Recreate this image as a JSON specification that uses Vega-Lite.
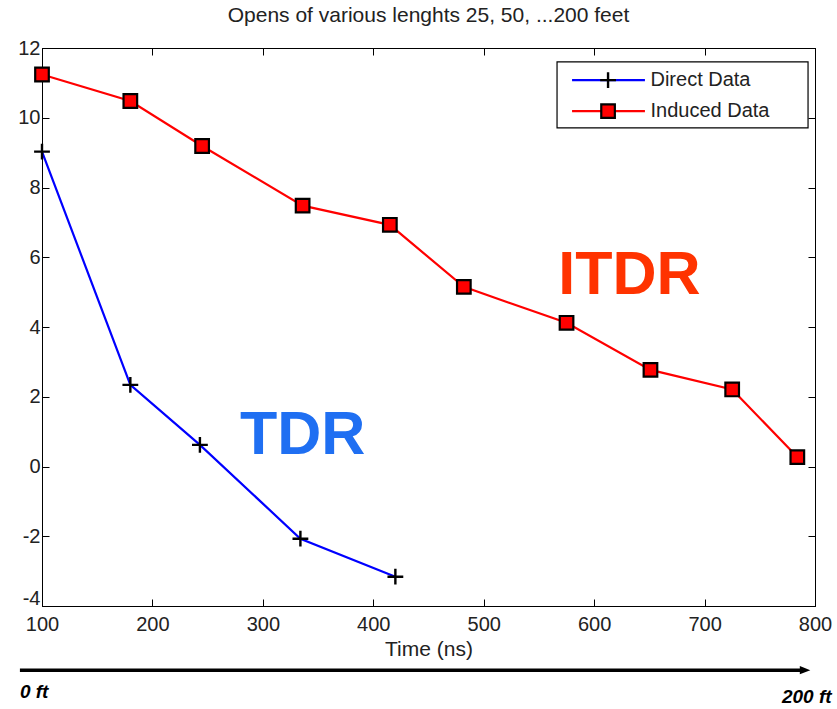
{
  "$schema": "https://vega.github.io/schema/vega-lite/v6.json",
  "autosize": "none",
  "width": 773,
  "height": 558,
  "padding": {"left": 42, "top": 48, "right": 22, "bottom": 103},
  "background": "white",
  "title": {"text": "Opens of various lenghts 25, 50, ...200 feet", "fontSize": 21, "fontWeight": "normal", "font": "Liberation Sans", "color": "#222", "offset": 12},
  "config": {
    "view": {"stroke": "black", "strokeWidth": 1},
    "axis": {"labelFont": "Liberation Sans", "labelFontSize": 20, "labelColor": "#222", "titleFont": "Liberation Sans", "titleFontSize": 21, "titleFontWeight": "normal", "titleColor": "#222", "grid": false, "domainColor": "black", "tickColor": "black", "tickSize": -7, "ticks": true}
  },
  "datasets": {
    "main": [
      {"series": "Direct Data", "time": 100, "value": 9.03},
      {"series": "Direct Data", "time": 180, "value": 2.34},
      {"series": "Direct Data", "time": 243, "value": 0.62},
      {"series": "Direct Data", "time": 334, "value": -2.07},
      {"series": "Direct Data", "time": 420, "value": -3.16},
      {"series": "Induced Data", "time": 100, "value": 11.24},
      {"series": "Induced Data", "time": 180, "value": 10.48},
      {"series": "Induced Data", "time": 245, "value": 9.19},
      {"series": "Induced Data", "time": 336, "value": 7.48},
      {"series": "Induced Data", "time": 415, "value": 6.93},
      {"series": "Induced Data", "time": 482, "value": 5.15},
      {"series": "Induced Data", "time": 575, "value": 4.12},
      {"series": "Induced Data", "time": 651, "value": 2.77},
      {"series": "Induced Data", "time": 725, "value": 2.21},
      {"series": "Induced Data", "time": 784, "value": 0.27}
    ],
    "annot": [
      {"text": "ITDR", "time": 632, "value": 5.45},
      {"text": "TDR", "time": 336, "value": 0.88}
    ],
    "legend": [
      {"series": "Direct Data", "x0": 580, "x1": 646, "xm": 612.6, "xt": 651, "value": 11.08},
      {"series": "Induced Data", "x0": 580, "x1": 646, "xm": 612.6, "xt": 651, "value": 10.19}
    ],
    "legendbox": [{"x0": 566.4, "x1": 793.7, "y0": 11.6, "y1": 9.71}],
    "arrow": [{"x0": 80, "x1": 791, "value": -5.84}],
    "ftLeft": [{"text": "0 ft", "time": 80, "value": -6.47}],
    "ftRight": [{"text": "200 ft", "time": 815, "value": -6.6}]
  },
  "resolve": {"axis": {"x": "independent", "y": "independent"}, "scale": {"color": "independent"}},
  "layer": [
    {
      "data": {"name": "main"},
      "mark": {"type": "line", "strokeWidth": 2.2},
      "encoding": {
        "x": {"field": "time", "type": "quantitative", "scale": {"domain": [100, 800], "nice": false, "zero": false}, "axis": {"values": [100, 200, 300, 400, 500, 600, 700, 800], "title": "Time (ns)", "labelPadding": 15, "titlePadding": 4, "labelFlush": false}},
        "y": {"field": "value", "type": "quantitative", "scale": {"domain": [-4, 12], "nice": false, "zero": false}, "axis": {"values": [-4, -2, 0, 2, 4, 6, 8, 10, 12], "labelExpr": "'' + datum.value", "title": null, "labelPadding": 9, "labelFlush": false, "labelOffset": {"condition": {"test": "datum.value === -4", "value": -8}, "value": 0}}},
        "color": {"field": "series", "type": "nominal", "scale": {"domain": ["Direct Data", "Induced Data"], "range": ["#0000ff", "#ff0000"]}, "legend": null},
        "detail": {"field": "series"}
      }
    },
    {
      "data": {"name": "main"},
      "transform": [{"filter": "datum.series === 'Direct Data'"}],
      "mark": {"type": "point", "shape": "M-1,0H1M0,-1V1", "size": 250, "stroke": "black", "strokeWidth": 2.4, "filled": false, "opacity": 1},
      "encoding": {
        "x": {"field": "time", "type": "quantitative", "axis": {"orient": "top", "values": [100, 200, 300, 400, 500, 600, 700, 800], "labels": false, "title": null}},
        "y": {"field": "value", "type": "quantitative", "axis": {"orient": "right", "values": [-4, -2, 0, 2, 4, 6, 8, 10, 12], "labels": false, "title": null}}
      }
    },
    {
      "data": {"name": "main"},
      "transform": [{"filter": "datum.series === 'Induced Data'"}],
      "mark": {"type": "square", "size": 185, "fill": "#ff0000", "stroke": "black", "strokeWidth": 2.2, "opacity": 1},
      "encoding": {
        "x": {"field": "time", "type": "quantitative", "axis": null},
        "y": {"field": "value", "type": "quantitative", "axis": null}
      }
    },
    {
      "data": {"name": "annot"},
      "mark": {"type": "text", "font": "Liberation Sans", "fontWeight": "bold", "fontSize": 61, "align": "center", "baseline": "middle"},
      "encoding": {
        "x": {"field": "time", "type": "quantitative", "axis": null},
        "y": {"field": "value", "type": "quantitative", "axis": null},
        "text": {"field": "text"},
        "color": {"field": "text", "type": "nominal", "scale": {"domain": ["ITDR", "TDR"], "range": ["#ff3300", "#1f6ff2"]}, "legend": null}
      }
    },
    {
      "data": {"name": "legendbox"},
      "mark": {"type": "rect", "fill": "white", "stroke": "black", "strokeWidth": 1.2},
      "encoding": {
        "x": {"field": "x0", "type": "quantitative", "axis": null},
        "x2": {"field": "x1"},
        "y": {"field": "y0", "type": "quantitative", "axis": null},
        "y2": {"field": "y1"}
      }
    },
    {
      "data": {"name": "legend"},
      "mark": {"type": "rule", "strokeWidth": 2.2},
      "encoding": {
        "x": {"field": "x0", "type": "quantitative", "axis": null},
        "x2": {"field": "x1"},
        "y": {"field": "value", "type": "quantitative", "axis": null},
        "color": {"field": "series", "type": "nominal", "scale": {"domain": ["Direct Data", "Induced Data"], "range": ["#0000ff", "#ff0000"]}, "legend": null}
      }
    },
    {
      "data": {"name": "legend"},
      "transform": [{"filter": "datum.series === 'Direct Data'"}],
      "mark": {"type": "point", "shape": "M-1,0H1M0,-1V1", "size": 250, "stroke": "black", "strokeWidth": 2.4, "filled": false, "opacity": 1},
      "encoding": {
        "x": {"field": "xm", "type": "quantitative", "axis": null},
        "y": {"field": "value", "type": "quantitative", "axis": null}
      }
    },
    {
      "data": {"name": "legend"},
      "transform": [{"filter": "datum.series === 'Induced Data'"}],
      "mark": {"type": "square", "size": 185, "fill": "#ff0000", "stroke": "black", "strokeWidth": 2.2, "opacity": 1},
      "encoding": {
        "x": {"field": "xm", "type": "quantitative", "axis": null},
        "y": {"field": "value", "type": "quantitative", "axis": null}
      }
    },
    {
      "data": {"name": "legend"},
      "mark": {"type": "text", "font": "Liberation Sans", "fontSize": 20, "align": "left", "baseline": "middle", "color": "#222"},
      "encoding": {
        "x": {"field": "xt", "type": "quantitative", "axis": null},
        "y": {"field": "value", "type": "quantitative", "axis": null},
        "text": {"field": "series"}
      }
    },
    {
      "data": {"name": "arrow"},
      "mark": {"type": "rule", "strokeWidth": 3.5, "color": "black", "clip": false},
      "encoding": {
        "x": {"field": "x0", "type": "quantitative", "axis": null},
        "x2": {"field": "x1"},
        "y": {"field": "value", "type": "quantitative", "axis": null}
      }
    },
    {
      "data": {"name": "arrow"},
      "mark": {"type": "point", "shape": "M-1,-0.8L1,0L-1,0.8Z", "size": 110, "filled": true, "color": "black", "opacity": 1, "clip": false},
      "encoding": {
        "x": {"field": "x1", "type": "quantitative", "axis": null},
        "y": {"field": "value", "type": "quantitative", "axis": null}
      }
    },
    {
      "data": {"name": "ftLeft"},
      "mark": {"type": "text", "font": "Liberation Sans", "fontWeight": "bold", "fontStyle": "italic", "fontSize": 19, "align": "left", "baseline": "middle", "color": "black", "clip": false},
      "encoding": {
        "x": {"field": "time", "type": "quantitative", "axis": null},
        "y": {"field": "value", "type": "quantitative", "axis": null},
        "text": {"field": "text"}
      }
    },
    {
      "data": {"name": "ftRight"},
      "mark": {"type": "text", "font": "Liberation Sans", "fontWeight": "bold", "fontStyle": "italic", "fontSize": 19, "align": "right", "baseline": "middle", "color": "black", "clip": false},
      "encoding": {
        "x": {"field": "time", "type": "quantitative", "axis": null},
        "y": {"field": "value", "type": "quantitative", "axis": null},
        "text": {"field": "text"}
      }
    }
  ]
}
